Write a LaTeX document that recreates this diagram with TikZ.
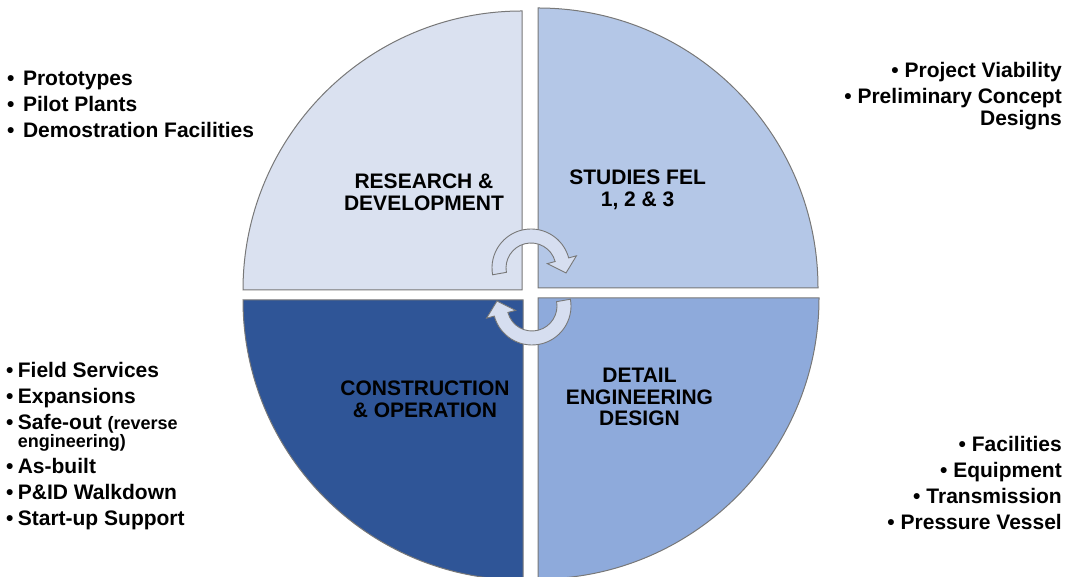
\documentclass[tikz,border=0pt]{standalone}
\usepackage{fontspec}
\setmainfont{Liberation Sans}
\definecolor{cTL}{RGB}{218,225,240}
\definecolor{cTR}{RGB}{180,199,231}
\definecolor{cBR}{RGB}{142,170,219}
\definecolor{cBL}{RGB}{47,85,151}
\definecolor{edgegray}{RGB}{120,120,120}
\definecolor{arrowfill}{RGB}{214,222,240}
\begin{document}
\begin{tikzpicture}[x=1pt,y=1pt,
  quad/.style={draw=edgegray, line width=1pt},
  cyclearrow/.style={draw=edgegray, line width=0.9pt, fill=arrowfill},
  qlabel/.style={font=\bfseries\fontsize{21}{21.5}\selectfont, align=center, inner sep=0pt, anchor=center},
  blist/.style={font=\bfseries\fontsize{21}{26}\selectfont, inner sep=0pt}]
\useasboundingbox (0,0) rectangle (1068,577);
\clip (0,0) rectangle (1068,577);
% quadrants
\draw[quad, fill=cTL] (522,287) -- (243,287) arc[start angle=180, end angle=90, radius=279] -- cycle;
\draw[quad, fill=cTR] (538,289) -- (538,569) arc[start angle=90, end angle=0, radius=280] -- cycle;
\draw[quad, fill=cBR] (538,279) -- (819,279) arc[start angle=0, end angle=-90, radius=281] -- cycle;
\draw[quad, fill=cBL] (523,277) -- (523,-3) arc[start angle=-90, end angle=-180, radius=280] -- cycle;
% cycle arrows
\begin{scope}[shift={(531,309)}]
\draw[cyclearrow] (190:39) arc[start angle=190, end angle=15, radius=39] -- (15:47) -- (35,-5) -- (15:17) -- (15:25) arc[start angle=15, end angle=190, radius=25] -- cycle;
\end{scope}
\begin{scope}[shift={(532,271)}]
\draw[cyclearrow] (10:39) arc[start angle=10, end angle=-165, radius=39] -- (195:47) -- (-35,5) -- (195:17) -- (195:25) arc[start angle=-165, end angle=10, radius=25] -- cycle;
\end{scope}
% quadrant labels
\node[qlabel] (rd) at (424,384.6) {RESEARCH \&\\DEVELOPMENT};
\node[qlabel] (fel) at (637.6,387.3) {STUDIES FEL\\1, 2 \& 3};
\node[qlabel] (co) at (425,177.8) {CONSTRUCTION\\\& OPERATION};
\node[qlabel] (ded) at (639.5,179.7) {DETAIL\\ENGINEERING\\DESIGN};
% lists
\node[blist, anchor=base west] (listTL) at (7,491) {\begin{tabular}[t]{@{}l@{\hspace{8.5pt}}l@{}}
•&Prototypes\\
•&Pilot Plants\\
•&Demostration Facilities
\end{tabular}};
\node[blist, anchor=base east] (listTR) at (1062,499) {\begin{tabular}[t]{@{}r@{}}
• Project Viability\\
• Preliminary Concept\\[-4pt]
Designs
\end{tabular}};
\node[blist, anchor=base west] (listBL) at (6,199) {\begin{tabular}[t]{@{}l@{\hspace{4.3pt}}l@{}}
•&Field Services\\
•&Expansions\\
•&Safe-out {\fontsize{18}{18}\selectfont(reverse}\\[-8pt]
&{\fontsize{18}{18}\selectfont engineering)}\\
•&As-built\\
•&P\&ID Walkdown\\
•&Start-up Support
\end{tabular}};
\node[blist, anchor=base east] (listBR) at (1062,125) {\begin{tabular}[t]{@{}r@{}}
• Facilities\\
• Equipment\\
• Transmission\\
• Pressure Vessel
\end{tabular}};
\end{tikzpicture}
\end{document}
